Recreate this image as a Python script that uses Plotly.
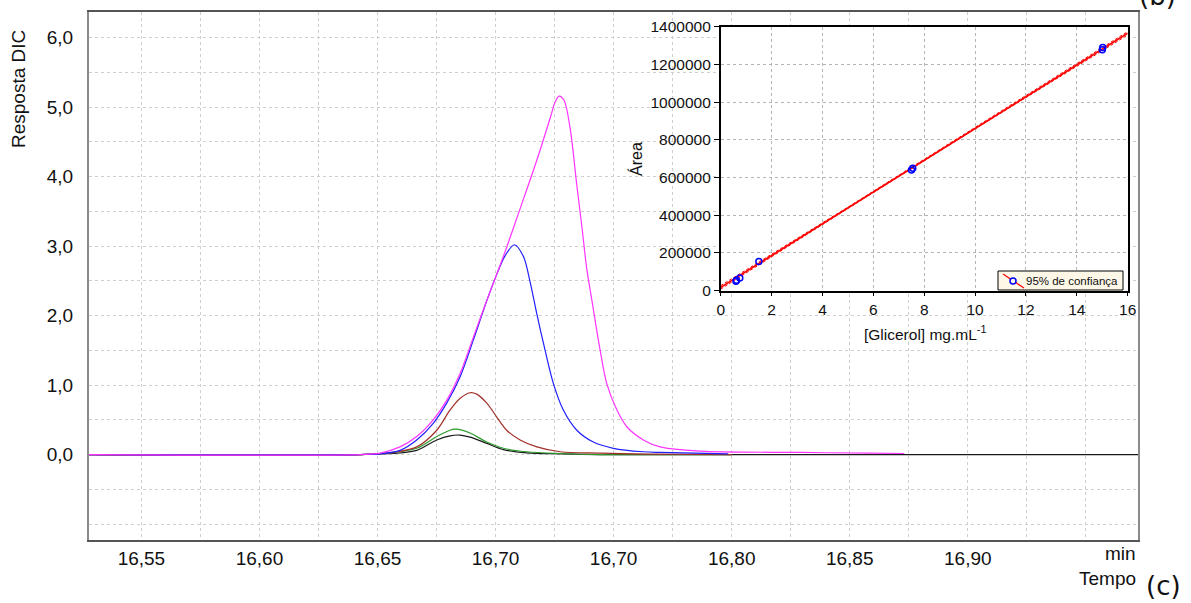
import plotly.graph_objects as go

# ---------------- main chromatogram data ----------------
pink_x = [16.5278, 16.6426, 16.6511, 16.6595, 16.6666, 16.6736, 16.6793, 16.6850, 16.6906, 16.6963,
          16.7033, 16.7104, 16.7175, 16.7231, 16.7252, 16.7269, 16.7290, 16.7316, 16.7344, 16.7365,
          16.7386, 16.7408, 16.7443, 16.7471, 16.7514, 16.7556, 16.7626, 16.7697, 16.7867, 16.8290,
          16.8587, 16.8731]
pink_y = [0, 0, 0.02, 0.11, 0.26, 0.50, 0.78, 1.17, 1.69, 2.22,
          2.85, 3.54, 4.24, 4.84, 5.07, 5.16, 5.10, 4.69, 3.88, 3.30,
          2.68, 2.22, 1.50, 1.02, 0.64, 0.40, 0.21, 0.11, 0.05, 0.03,
          0.02, 0.015]

blue_x = [16.5278, 16.6426, 16.6511, 16.6595, 16.6666, 16.6736, 16.6793, 16.6850, 16.6906, 16.6956,
          16.7000, 16.7040, 16.7080, 16.7118, 16.7146, 16.7175, 16.7203, 16.7245, 16.7287, 16.7344,
          16.7414, 16.7499, 16.7626, 16.7697, 16.7985]
blue_y = [0, 0, 0.01, 0.06, 0.21, 0.45, 0.74, 1.12, 1.65, 2.15,
          2.55, 2.86, 3.02, 2.85, 2.49, 2.02, 1.60, 1.02, 0.64, 0.35,
          0.18, 0.09, 0.04, 0.03, 0.01]

brown_x = [16.5278, 16.6426, 16.6567, 16.6666, 16.6751, 16.6807, 16.6850, 16.6892, 16.6920, 16.6963,
           16.7005, 16.7047, 16.7104, 16.7175, 16.7273, 16.7443, 16.7655, 16.8000]
brown_y = [0, 0, 0.03, 0.11, 0.35, 0.64, 0.81, 0.89, 0.87, 0.74,
           0.54, 0.35, 0.21, 0.11, 0.04, 0.02, 0.005, 0]

green_x = [16.5278, 16.6426, 16.6567, 16.6666, 16.6751, 16.6807, 16.6828, 16.6850, 16.6892, 16.6963,
           16.7033, 16.7132, 16.7273, 16.7443, 16.8000]
green_y = [0, 0, 0.03, 0.09, 0.26, 0.35, 0.365, 0.36, 0.31, 0.18,
           0.09, 0.04, 0.015, 0, 0]

black_x = [16.5278, 16.6426, 16.6567, 16.6666, 16.6751, 16.6807, 16.6850, 16.6892, 16.6963, 16.7033,
           16.7132, 16.7273, 16.7443, 16.9721]
black_y = [0, 0, 0.015, 0.06, 0.21, 0.27, 0.28, 0.25, 0.16, 0.07,
           0.025, 0.01, 0, 0]

x_tickvals = [16.55, 16.60, 16.65, 16.70, 16.75, 16.80, 16.85, 16.90]
x_ticktext = ["16,55", "16,60", "16,65", "16,70", "16,70", "16,80", "16,85", "16,90"]
x_minor = [16.575, 16.625, 16.675, 16.725, 16.775, 16.825, 16.875, 16.925, 16.95]
y_tickvals = [0, 1, 2, 3, 4, 5, 6]
y_ticktext = ["0,0", "1,0", "2,0", "3,0", "4,0", "5,0", "6,0"]
y_minor = [-1.0, -0.5, 0.5, 1.5, 2.5, 3.5, 4.5, 5.5]

# ---------------- inset calibration data ----------------
conc = [0.6, 0.62, 0.75, 1.5, 7.5, 7.55, 15.0, 15.02]
area = [50000, 56000, 68000, 155000, 640000, 650000, 1278000, 1290000]
fit_x = [0, 16]
fit_y = [17700, 1365000]
ci_x = [0, 5, 10, 16]
ci_upper = [27000, 443000, 866000, 1374000]
ci_lower = [8500, 436000, 858000, 1356000]
legend_label = "95% de confiança"

FONT = "Liberation Sans, Arial, sans-serif"

fig = go.Figure()

main_traces = [
    (black_x, black_y, "#1a1a1a"),
    (green_x, green_y, "#2e9a2e"),
    (brown_x, brown_y, "#a0302a"),
    (blue_x, blue_y, "#2020ff"),
    (pink_x, pink_y, "#ff33ff"),
]
for xs, ys, col in main_traces:
    fig.add_trace(go.Scatter(x=xs, y=ys, mode="lines",
                             line=dict(color=col, width=1.2, shape="spline", smoothing=0.9),
                             showlegend=False, hoverinfo="skip", xaxis="x", yaxis="y"))

# inset traces
fig.add_trace(go.Scatter(x=ci_x, y=ci_upper, mode="lines", line=dict(color="red", width=1, dash="3px,2px"),
                         showlegend=False, xaxis="x2", yaxis="y2"))
fig.add_trace(go.Scatter(x=ci_x, y=ci_lower, mode="lines", line=dict(color="red", width=1, dash="3px,2px"),
                         showlegend=False, xaxis="x2", yaxis="y2"))
fig.add_trace(go.Scatter(x=fit_x, y=fit_y, mode="lines", line=dict(color="red", width=1.7),
                         showlegend=False, xaxis="x2", yaxis="y2"))
fig.add_trace(go.Scatter(x=conc, y=area, mode="markers",
                         marker=dict(symbol="circle-open", color="blue", size=6, line=dict(width=1.5, color="blue")),
                         showlegend=False, xaxis="x2", yaxis="y2"))

W, H = 1191, 603
L, R, T, B = 89, 53, 12, 63
pw, ph = W - L - R, H - T - B


def px(x):
    return (x - L) / pw


def py(y):
    return (H - B - y) / ph


grid_main = dict(gridcolor="#cfcfcf", griddash="3px,3px", gridwidth=1)

shapes = [
    # white plot area of the inset
    dict(type="rect", xref="x2 domain", yref="y2 domain", x0=0, x1=1, y0=0, y1=1,
         fillcolor="white", line=dict(width=0), layer="below"),
    # legend box of the inset
    dict(type="rect", xref="paper", yref="paper", x0=px(998), x1=px(1123), y0=py(290), y1=py(271),
         fillcolor="#fdf7e8", line=dict(color="black", width=1), layer="above"),
    dict(type="line", xref="paper", yref="paper", x0=px(1003), x1=px(1024), y0=py(274), y1=py(288),
         line=dict(color="red", width=1.2), layer="above"),
    dict(type="circle", xref="paper", yref="paper", x0=px(1010), x1=px(1016), y0=py(284), y1=py(278),
         fillcolor="#fdf7e8", line=dict(color="blue", width=1.5), layer="above"),
]

fig.update_layout(
    width=W, height=H,
    margin=dict(l=L, r=R, t=T, b=B, autoexpand=False),
    paper_bgcolor="white", plot_bgcolor="white",
    font=dict(family=FONT, color="#111"),
    showlegend=False,
    xaxis=dict(domain=[0, 1], range=[16.5278, 16.9721], tickmode="array",
               tickvals=x_tickvals, ticktext=x_ticktext, ticks="", automargin=False,
               tickfont=dict(size=19, family=FONT, color="#111"),
               showgrid=True, **grid_main,
               minor=dict(tickvals=x_minor, showgrid=True, gridcolor="#cfcfcf", griddash="3px,3px", ticks=""),
               showline=True, linecolor="#555", linewidth=1.5, mirror=True, zeroline=False),
    yaxis=dict(domain=[0, 1], range=[-1.23, 6.37], tickmode="array",
               tickvals=y_tickvals, ticktext=y_ticktext, ticks="", automargin=False,
               tickfont=dict(size=19, family=FONT, color="#111"), ticklabelstandoff=10,
               showgrid=True, **grid_main,
               minor=dict(tickvals=y_minor, showgrid=True, gridcolor="#cfcfcf", griddash="3px,3px", ticks=""),
               showline=True, linecolor="#8a8a8a", linewidth=2, mirror=True, zeroline=False),
    xaxis2=dict(domain=[px(720.7), px(1127.7)], anchor="y2", range=[0, 16], dtick=2, tick0=0,
                tickfont=dict(size=15.5, family=FONT, color="#111"), automargin=False,
                ticks="outside", ticklen=4, tickcolor="black",
                showgrid=True, gridcolor="#b5b5b5", griddash="dot", gridwidth=1,
                showline=True, linecolor="black", linewidth=1.5, mirror=True, zeroline=False),
    yaxis2=dict(domain=[py(290.7), py(26.7)], anchor="x2", range=[0, 1400000], dtick=200000, tick0=0,
                tickformat="d", automargin=False,
                tickfont=dict(size=15.5, family=FONT, color="#111"),
                ticks="outside", ticklen=5, tickcolor="black",
                showgrid=True, gridcolor="#b5b5b5", griddash="dot", gridwidth=1,
                showline=True, linecolor="black", linewidth=1.5, mirror=True, zeroline=False),
    shapes=shapes,
    annotations=[
        dict(text="Resposta DIC", x=px(18), y=py(89), xref="paper", yref="paper", showarrow=False,
             textangle=-90, font=dict(size=19, family=FONT, color="#111"), xanchor="center", yanchor="middle"),
        dict(text="min", x=1.0, y=py(553), xref="paper", yref="paper", showarrow=False,
             font=dict(size=19, family=FONT, color="#111"), xanchor="right", yanchor="middle"),
        dict(text="Tempo", x=1.0, y=py(578), xref="paper", yref="paper", showarrow=False,
             font=dict(size=19, family=FONT, color="#111"), xanchor="right", yanchor="middle"),
        dict(text="(c)", x=px(1163), y=py(586), xref="paper", yref="paper", showarrow=False,
             font=dict(size=26, family="DejaVu Sans", color="#111"), xanchor="center", yanchor="middle"),
        dict(text="(b)", x=px(1157), y=py(13), xref="paper", yref="paper", showarrow=False,
             font=dict(size=26, family="DejaVu Sans", color="#111"), xanchor="center", yanchor="bottom"),
        dict(text="Área", x=px(636), y=py(159), xref="paper", yref="paper", showarrow=False,
             textangle=-90, font=dict(size=16, family=FONT, color="#111"), xanchor="center", yanchor="middle"),
        dict(text="[Glicerol] mg.mL<sup>-1</sup>", x=px(925), y=py(333), xref="paper", yref="paper",
             showarrow=False, font=dict(size=15.5, family=FONT, color="#111"), xanchor="center", yanchor="middle"),
        dict(text=legend_label, x=px(1025), y=py(281), xref="paper", yref="paper", showarrow=False,
             font=dict(size=11.5, family=FONT, color="#111"), xanchor="left", yanchor="middle",
             borderpad=0),
    ],
)

fig.write_html("out.html")
